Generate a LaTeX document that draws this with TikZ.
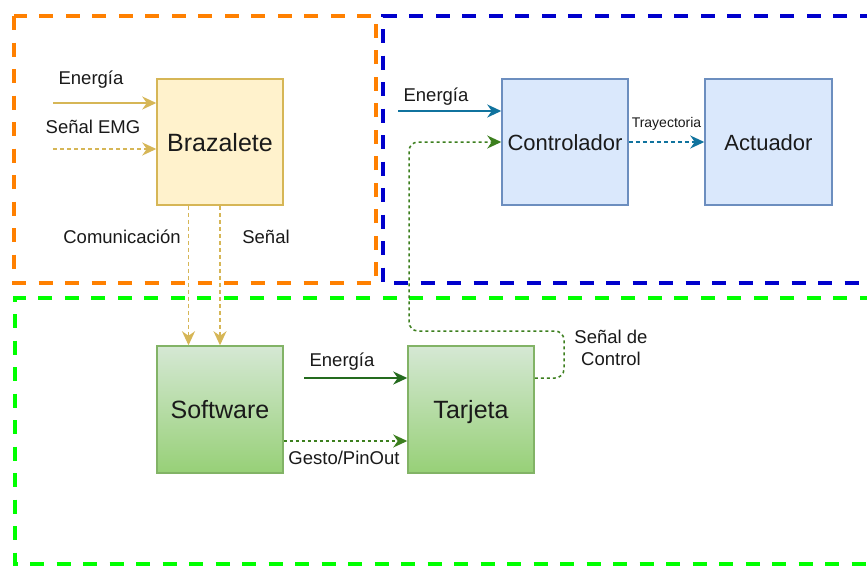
\documentclass[tikz,border=0pt]{standalone}
\usepackage{fontspec}
\setmainfont{Liberation Sans}
\usetikzlibrary{arrows.meta,calc}
\definecolor{orangeC}{HTML}{FF8000}
\definecolor{blueC}{HTML}{0000CC}
\definecolor{greenC}{HTML}{00FF00}
\definecolor{goldL}{HTML}{D6B656}
\definecolor{goldF}{HTML}{FFF2CC}
\definecolor{blueL}{HTML}{6C8EBF}
\definecolor{blueF}{HTML}{DAE8FC}
\definecolor{greenL}{HTML}{82B366}
\definecolor{greenT}{HTML}{D5E8D4}
\definecolor{greenB}{HTML}{97D077}
\definecolor{arrBlue}{HTML}{10739E}
\definecolor{dkGreen}{HTML}{3C7F1E}
\definecolor{solGreen}{HTML}{246B1E}
\definecolor{txt}{HTML}{1A1A1A}
\begin{document}
\begin{tikzpicture}[x=1pt,y=-1pt,
  box/.style={draw, line width=1.5pt, minimum width=126pt, minimum height=126pt, inner sep=0pt, text=txt},
  bigtxt/.style={font=\fontsize{25}{28}\selectfont, text height=22pt, text depth=4pt},
  midtxt/.style={font=\fontsize{22}{26}\selectfont, text height=20pt, text depth=4pt},
  lbl/.style={font=\fontsize{18.5}{22}\selectfont, text=txt, inner sep=0pt},
  arr/.style={-{Stealth[length=14pt,width=13pt,inset=4.5pt]}},
  frame/.style={line width=3.8pt, dash pattern=on 14pt off 12.5pt},
  dotl/.style={line width=1.5pt, dash pattern=on 3pt off 3pt}
]
\clip (0,0) rectangle (867,566);
\fill[white] (0,0) rectangle (867,566);

% containers
\draw[frame, greenC] (900,298) -- (15,298) -- (15,564) -- (900,564);
\draw[frame, blueC] (900,16) -- (383,16) -- (383,283) -- (900,283);
\draw[frame, orangeC] (14,16) rectangle (376,283);

% boxes
\node[box, bigtxt, draw=goldL, fill=goldF] (braz) at (220,142) {Brazalete};
\node[box, midtxt, draw=blueL, fill=blueF] (ctrl) at (565,142) {Controlador};
\node[box, midtxt, draw=blueL, fill=blueF, minimum width=127pt] (act) at (768.5,142) {Actuador};
\node[box, bigtxt, draw=greenL, top color=greenT, bottom color=greenB, minimum height=127pt] (soft) at (220,409.5) {Software};
\node[box, bigtxt, draw=greenL, top color=greenT, bottom color=greenB, minimum height=127pt] (tarj) at (471,409.5) {Tarjeta};

% Brazalete inputs
\coordinate (be) at (53,103);
\coordinate (bs) at (53,149);
\draw[goldL, line width=2pt, arr] (be) -- (be -| braz.west);
\draw[goldL, line width=1.3pt, dash pattern=on 4pt off 3pt, arr] (bs) -- (bs -| braz.west);
\node[lbl] at (91,80) {Energía};
\node[lbl] at (93,127) {Señal EMG};

% Brazalete -> Software
\draw[goldL, line width=1.3pt, dash pattern=on 4pt off 3pt, arr] ([xshift=-31.5pt]braz.south) -- ([xshift=-31.5pt]soft.north);
\draw[goldL, line width=1.3pt, dash pattern=on 4pt off 3pt, arr] (braz.south) -- (soft.north);
\node[lbl] at (122,237) {Comunicación};
\node[lbl] at (266,237) {Señal};

% Controlador
\coordinate (ce) at (398,111);
\draw[arrBlue, line width=2pt, arr] (ce) -- (ce -| ctrl.west);
\node[lbl] at (436,97) {Energía};
\draw[arrBlue, line width=1.5pt, dash pattern=on 4pt off 3pt, arr] (ctrl.east) -- (act.west)
  node[midway, above=11pt, inner sep=0pt, font=\fontsize{14}{16}\selectfont, text=txt] {Trayectoria};

% Senal de control loop
\coordinate (sc1) at (564,331);
\coordinate (sc2) at (409,331);
\draw[dkGreen, dotl, rounded corners=9pt, arr] ([yshift=31.5pt]tarj.east) -| (sc1) -- (sc2) |- (ctrl.west);
\node[lbl, align=center] at (611,348) {Señal de\\Control};

% Software -> Tarjeta
\coordinate (se) at (304,378);
\draw[solGreen, line width=2pt, arr] (se) -- (se -| tarj.west);
\node[lbl] at (342,362) {Energía};
\draw[dkGreen, dotl, arr] ([yshift=-31.5pt]soft.east) -- ([yshift=-31.5pt]tarj.west);
\node[lbl] at (344,458) {Gesto/PinOut};
\end{tikzpicture}
\end{document}
